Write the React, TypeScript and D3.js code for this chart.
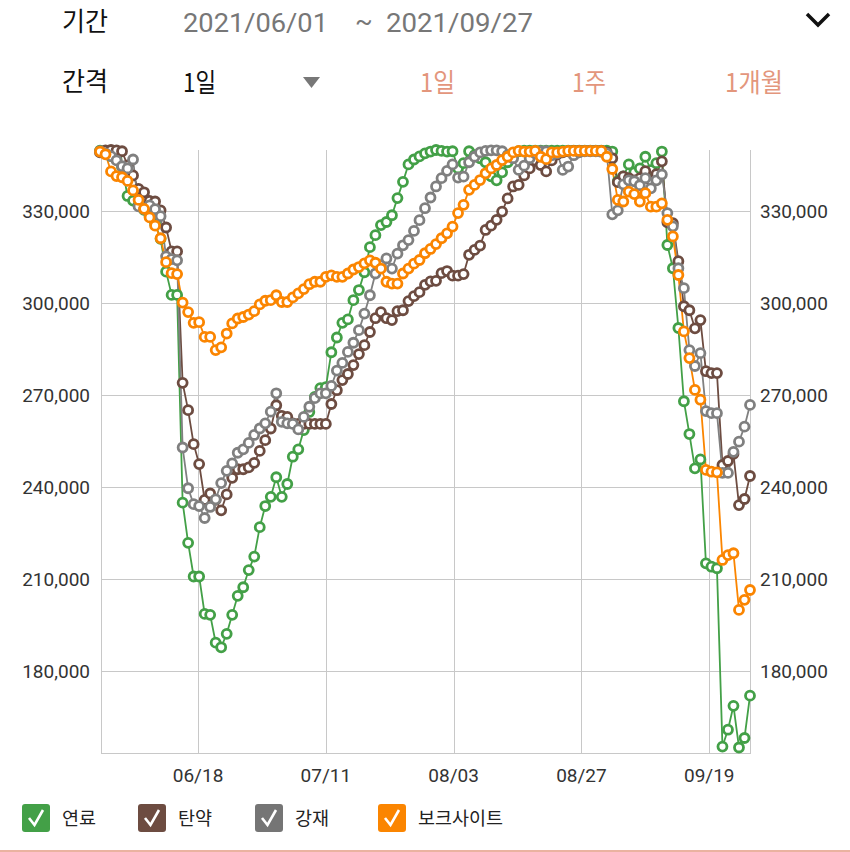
import React from "react";
import * as d3 from "d3";

// period shown in the header
const periodStart = "2021/06/01";
const periodEnd = "2021/09/27";
const intervalLabels = ["1일", "1주", "1개월"];

// daily resource values, 06/01 .. 09/27
const fuel = [
  349800, 349000, 348000, 347000, 344500, 335000, 333500, 332000, 330500, 328500,
  326000, 321000, 310300, 302700, 302700, 234900, 221800, 210800, 210800, 198600,
  198300, 189200, 187700, 192100, 198300, 204500, 207300, 212900, 217300, 226900,
  233800, 236800, 243200, 236800, 241000, 249900, 252300, 258600, 264500, 269400,
  272300, 272600, 284000, 288800, 293600, 294700, 301000, 304300, 310100, 318300,
  322200, 325500, 326500, 328700, 334300, 339600, 345300, 346900, 347900, 348900,
  349500, 350000, 349700, 349500, 349600, 344000, 345700, 349600, 348300, 347300,
  346000, 341400, 340100, 342700, 346000, 348300, 349600, 349800, 349800, 349800,
  349800, 349800, 349800, 349800, 349800, 349800, 349800, 349800, 349800, 349800,
  349800, 349800, 349800, 349500, 339800, 341400, 345300, 342700, 344000, 347800,
  343400, 345700, 349500, 319000, 311400, 291900, 268000, 257300, 246100, 249000,
  215100, 214000, 213500, 155300, 160800, 168600, 155000, 158100, 171900,
];

const ammo = [
  349200, 349900, 350000, 349900, 349600, 345000, 341700, 337300, 336200, 333400,
  333200, 330300, 324700, 316900, 316900, 274000, 265100, 254000, 247500, 235800,
  237900, 235800, 232400, 237600, 243000, 245800, 245800, 246400, 247900, 251800,
  255300, 259100, 266700, 263200, 262900, 260800, 260600, 260600, 260600, 260600,
  260600, 260600, 267100, 271600, 274900, 276900, 279800, 283400, 286300, 290600,
  295100, 297100, 295100, 294500, 297400, 297700, 300700, 302300, 303600, 306000,
  307100, 307300, 309800, 310500, 309000, 309000, 309500, 315800, 317400, 318800,
  323900, 325300, 327200, 329900, 334200, 338100, 338600, 341700, 344000, 346600,
  345100, 343000, 346600, 348600, 349200, 349600, 349700, 349700, 349700, 349700,
  349700, 349700, 349200, 347300, 339500, 341400, 340800, 340100, 340800, 343100,
  340100, 342100, 346300, 326400, 326100, 313700, 299000, 297700, 291800, 294500,
  277800, 277200, 277200, 247200, 248500, 250800, 234100, 236100, 243600,
];

const steel = [
  349600, 348900, 348000, 346600, 344700, 344000, 346900, 331600, 330700, 331900,
  330700, 328400, 315300, 314400, 314000, 252900, 239600, 234400, 233800, 229900,
  233500, 236000, 241300, 245300, 247700, 251200, 252300, 254400, 257000, 259100,
  260800, 264600, 270600, 261300, 260800, 260600, 258800, 262900, 266200, 269000,
  270600, 270600, 273000, 278000, 280500, 284100, 287100, 291200, 296600, 302600,
  309700, 312400, 314600, 311300, 316200, 318900, 320600, 323600, 327100, 331000,
  334500, 338100, 340800, 343200, 345300, 341000, 341300, 346000, 347800, 349200,
  349700, 349900, 349900, 349600, 348300, 347300, 343500, 344900, 347300, 348900,
  349600, 349600, 348300, 348900, 343500, 344600, 348300, 349200, 349600, 349600,
  349600, 349400, 348900, 329000, 330300, 338800, 340100, 339800, 338500, 340800,
  337500, 340100, 342000, 329400, 325100, 311400, 304900, 284700, 279500, 283700,
  264800, 264100, 264100, 244600, 244600, 251500, 254800, 259700, 266800,
];

const bauxite = [
  349500, 348600, 343000, 341500, 341100, 339900, 336800, 333700, 330800, 328000,
  325300, 321200, 313400, 309800, 309500, 300200, 297100, 293600, 293800, 289000,
  289000, 284700, 285600, 290100, 293400, 295000, 295500, 296300, 297400, 299600,
  300800, 301000, 302600, 300400, 300400, 301900, 303200, 304600, 306200, 307000,
  307000, 308600, 309100, 308600, 308600, 309700, 311000, 311800, 313000, 314000,
  313200, 311300, 307000, 306400, 306400, 309700, 311300, 312900, 314100, 316300,
  317700, 319300, 321200, 322800, 325000, 329400, 332100, 337000, 338600, 340200,
  342400, 344000, 345100, 346700, 347800, 349200, 349700, 349500, 349500, 349700,
  347800, 347000, 349200, 349200, 349500, 349700, 349700, 349700, 349700, 349700,
  349700, 349700, 347800, 343800, 333700, 333200, 336400, 335600, 333200, 335900,
  331500, 331500, 332600, 327200, 321800, 309200, 290800, 282100, 271700, 268500,
  245600, 245000, 244800, 216200, 217800, 218400, 199900, 203200, 206400,
];

const yTicks = [180000, 210000, 240000, 270000, 300000, 330000];
const xTickLabels = ["06/18", "07/11", "08/03", "08/27", "09/19"];
const xTickIndex = [17.8, 41.0, 64.2, 87.4, 110.6];

const seriesNames = ["연료", "탄약", "강재", "보크사이트"];
const seriesColors = ["#43a047", "#6d4c41", "#808080", "#fb8500"];
const boxColors = ["#43a047", "#6d4c41", "#757575", "#fb8500"];
const seriesValues = [fuel, ammo, steel, bauxite];

const KR = "'Noto Sans CJK KR', 'Noto Sans', sans-serif";
const NUM = "Roboto, 'Noto Sans', sans-serif";
const ACCENT = "#e3967c";

export default function App() {
  const width = 850;
  const height = 852;
  const left = 101;
  const right = 750;
  const top = 150;
  const bottom = 753;

  const x = d3.scaleLinear().domain([0, fuel.length - 1]).range([100, 750]);
  const y = d3.scaleLinear().domain([153200, 350000]).range([bottom, top]);
  const fmt = d3.format(",");

  const line = d3
    .line<number>()
    .x((d, i) => x(i))
    .y((d) => y(d));

  const legendX = [22, 138, 255, 378];

  return (
    <div style={{ position: "absolute", left: 0, top: 0, background: "#fff" }}>
      <svg width={width} height={height} style={{ display: "block" }}>
        <rect width={width} height={height} fill="#fff" />

        {/* header */}
        <text x={62} y={31} fontFamily={KR} fontSize={26} fill="#111" textLength={46} lengthAdjust="spacingAndGlyphs">
          기간
        </text>
        <g fontFamily={NUM} fontSize={26} fill="#777">
          <text x={183} y={32} textLength={145} lengthAdjust="spacingAndGlyphs">
            {periodStart}
          </text>
          <text x={355} y={30}>~</text>
          <text x={386} y={32} textLength={147} lengthAdjust="spacingAndGlyphs">
            {periodEnd}
          </text>
        </g>
        <path d="M807,14 L818,25 L829,14" fill="none" stroke="#111" strokeWidth={3.5} />

        <text x={62} y={91} fontFamily={KR} fontSize={26} fill="#111" textLength={46} lengthAdjust="spacingAndGlyphs">
          간격
        </text>
        <text x={183} y={92} fontFamily={KR} fontSize={26} fill="#111" textLength={33} lengthAdjust="spacingAndGlyphs">
          {intervalLabels[0]}
        </text>
        <path d="M303,77 L320,77 L311.5,88 Z" fill="#777" />
        {intervalLabels.map((t, i) => (
          <text
            key={t}
            x={[420, 572, 725][i]}
            y={92}
            fontFamily={KR}
            fontSize={26}
            fill={ACCENT}
            textLength={[35, 34, 58][i]}
            lengthAdjust="spacingAndGlyphs"
          >
            {t}
          </text>
        ))}

        {/* grid */}
        <g stroke="#c8c8c8" strokeWidth={1} shapeRendering="crispEdges">
          {yTicks.map((t) => (
            <line key={t} x1={left} x2={right} y1={Math.round(y(t)) + 0.5} y2={Math.round(y(t)) + 0.5} />
          ))}
          {xTickIndex.map((t) => (
            <line key={t} x1={Math.round(x(t)) + 0.5} x2={Math.round(x(t)) + 0.5} y1={top} y2={bottom} />
          ))}
          <line x1={left + 0.5} x2={left + 0.5} y1={top} y2={bottom} />
          <line x1={right + 0.5} x2={right + 0.5} y1={top} y2={bottom} />
          <line x1={left} x2={right + 1} y1={bottom + 0.5} y2={bottom + 0.5} />
        </g>

        {/* y labels both sides */}
        {yTicks.map((t) => (
          <g key={t} fontFamily={NUM} fontSize={19} fill="#333">
            <text x={90} y={y(t) + 7} textAnchor="end">
              {fmt(t)}
            </text>
            <text x={760} y={y(t) + 7}>
              {fmt(t)}
            </text>
          </g>
        ))}

        {/* x labels */}
        {xTickIndex.map((t, i) => (
          <text key={t} x={x(t)} y={782} textAnchor="middle" fontFamily={NUM} fontSize={19} fill="#333">
            {xTickLabels[i]}
          </text>
        ))}

        {/* lines first, then markers */}
        {seriesValues.map((vals, s) => (
          <path key={s} d={line(vals) || ""} fill="none" stroke={seriesColors[s]} strokeWidth={1.8} />
        ))}
        {seriesValues.map((vals, s) => (
          <g key={s} fill="#fff" stroke={seriesColors[s]} strokeWidth={2.8}>
            {vals.map((v, i) => (
              <circle key={i} cx={x(i)} cy={y(v)} r={4.5} />
            ))}
          </g>
        ))}

        {/* legend */}
        {seriesNames.map((name, s) => (
          <g key={name}>
            <rect x={legendX[s]} y={804} width={28} height={28} rx={3} fill={boxColors[s]} />
            <path
              d={`M${legendX[s] + 7},${818} L${legendX[s] + 12.5},${825} L${legendX[s] + 21},${810}`}
              fill="none"
              stroke="#fff"
              strokeWidth={2.6}
            />
            <text x={legendX[s] + 40} y={825} fontFamily={KR} fontSize={18.5} fill="#222">
              {name}
            </text>
          </g>
        ))}

        <line x1={0} x2={width} y1={851} y2={851} stroke="#eab2a0" strokeWidth={2} />
      </svg>
    </div>
  );
}
